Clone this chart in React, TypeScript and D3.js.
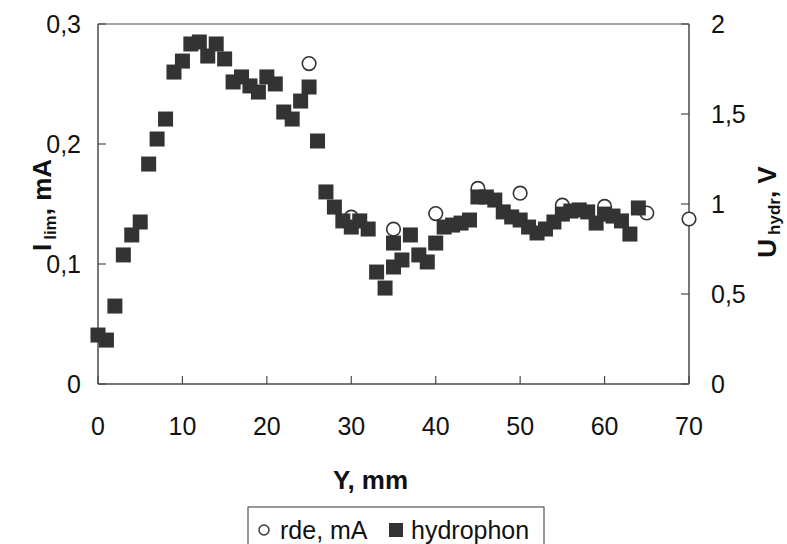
import React from "react";
import * as d3 from "d3";

// hydrophon series (Y in mm, U_hydr in V, right axis)
const hydroX = [0,1,2,3,4,5,6,7,8,9,10,11,12,13,14,15,16,17,18,19,20,21,22,23,24,25,26,27,28,29,30,31,32,33,34,35,35,36,37,38,39,40,41,42,43,44,45,46,47,48,49,50,51,52,53,54,55,56,57,58,59,60,61,62,63,64];
const hydroV = [0.272,0.244,0.433,0.717,0.828,0.9,1.222,1.361,1.472,1.733,1.794,1.889,1.9,1.822,1.889,1.806,1.678,1.706,1.656,1.622,1.706,1.667,1.511,1.472,1.572,1.65,1.35,1.067,0.983,0.906,0.872,0.906,0.861,0.622,0.533,0.65,0.783,0.689,0.828,0.717,0.678,0.783,0.872,0.883,0.894,0.911,1.039,1.039,1.022,0.956,0.928,0.911,0.872,0.839,0.861,0.9,0.944,0.961,0.967,0.956,0.894,0.944,0.933,0.906,0.833,0.978];

// rde series (Y in mm, I_lim in mA, left axis)
const rdeX = [25,30,35,40,45,50,55,60,65,70];
const rdeI = [0.267,0.139,0.129,0.142,0.163,0.159,0.149,0.148,0.1425,0.1375];

const xTicks = [0,10,20,30,40,50,60,70];
const leftTicks = [0,0.1,0.2,0.3];
const rightTicks = [0,0.5,1,1.5,2];
const seriesNames = ["rde, mA", "hydrophon"];

const W = 787, H = 544;
const L = 98, R = 689, T = 24, B = 384;
const FONT = "Liberation Sans, Arial, sans-serif";
const fmt = (v: number) => String(+v.toFixed(2)).replace(".", ",");

export default function App() {
  const x = d3.scaleLinear().domain([0, 70]).range([L, R]);
  const yL = d3.scaleLinear().domain([0, 0.3]).range([B, T]);
  const yR = d3.scaleLinear().domain([0, 2]).range([B, T]);
  const axisCol = "#4a4a4a";
  const mark = "#333333";
  const sq = 15;
  return (
    <svg width={W} height={H} style={{ position: "absolute", left: 0, top: 0, background: "#fff" }} fontFamily={FONT}>
      <rect x={0} y={0} width={W} height={H} fill="#fff" />
      {/* frame */}
      <line x1={L} x2={R} y1={T} y2={T} stroke="#8a8a8a" strokeWidth={1.5} />
      <line x1={L} x2={L} y1={T} y2={B} stroke={axisCol} strokeWidth={1.5} />
      <line x1={R} x2={R} y1={T} y2={B} stroke={axisCol} strokeWidth={1.5} />
      <line x1={L} x2={R} y1={B} y2={B} stroke={axisCol} strokeWidth={1.5} />
      {/* x ticks */}
      {xTicks.map((t) => (
        <g key={"x" + t}>
          <line x1={x(t)} x2={x(t)} y1={B} y2={B - 8} stroke={axisCol} strokeWidth={1.2} />
          <text x={x(t)} y={435} fontSize={25} textAnchor="middle" fill="#111">{t}</text>
        </g>
      ))}
      {/* left ticks */}
      {leftTicks.map((t) => (
        <g key={"l" + t}>
          <line x1={L} x2={L + 8} y1={yL(t)} y2={yL(t)} stroke={axisCol} strokeWidth={1.2} />
          <text x={81} y={yL(t) + 9} fontSize={25} textAnchor="end" fill="#111">{fmt(t)}</text>
        </g>
      ))}
      {/* right ticks */}
      {rightTicks.map((t) => (
        <g key={"r" + t}>
          <line x1={R - 8} x2={R} y1={yR(t)} y2={yR(t)} stroke={axisCol} strokeWidth={1.2} />
          <text x={711} y={yR(t) + 9} fontSize={25} textAnchor="start" fill="#111">{fmt(t)}</text>
        </g>
      ))}
      {/* rde circles */}
      {rdeX.map((v, i) => (
        <circle key={"c" + i} cx={x(v)} cy={yL(rdeI[i])} r={6.8} fill="#fff" stroke={mark} strokeWidth={1.6} />
      ))}
      {/* hydrophon squares */}
      {hydroX.map((v, i) => (
        <rect key={"s" + i} x={x(v) - sq / 2} y={yR(hydroV[i]) - sq / 2} width={sq} height={sq} fill={mark} />
      ))}
      {/* axis titles */}
      <text transform="translate(51,205) rotate(-90)" textAnchor="middle" fontSize={26} fontWeight="bold" fill="#111">
        I<tspan fontSize={17} dx={4} dy={5}>lim</tspan><tspan dy={-5}>, mA</tspan>
      </text>
      <text transform="translate(776,212) rotate(-90)" textAnchor="middle" fontSize={26} fontWeight="bold" fill="#111">
        U<tspan fontSize={17} dx={4} dy={4}>hydr</tspan><tspan dy={-4}>, V</tspan>
      </text>
      <text x={(L + R) / 2 - 23} y={489} textAnchor="middle" fontSize={26} fontWeight="bold" fill="#111">Y, mm</text>
      {/* legend */}
      <rect x={248} y={507} width={296} height={45} fill="#fff" stroke="#555" strokeWidth={1.2} />
      <circle cx={264} cy={530} r={5} fill="#fff" stroke={mark} strokeWidth={1.4} />
      <text x={280} y={539} fontSize={25} fill="#111">{seriesNames[0]}</text>
      <rect x={389} y={523} width={14} height={14} fill={mark} />
      <text x={411} y={539} fontSize={25} fill="#111">{seriesNames[1]}</text>
    </svg>
  );
}
